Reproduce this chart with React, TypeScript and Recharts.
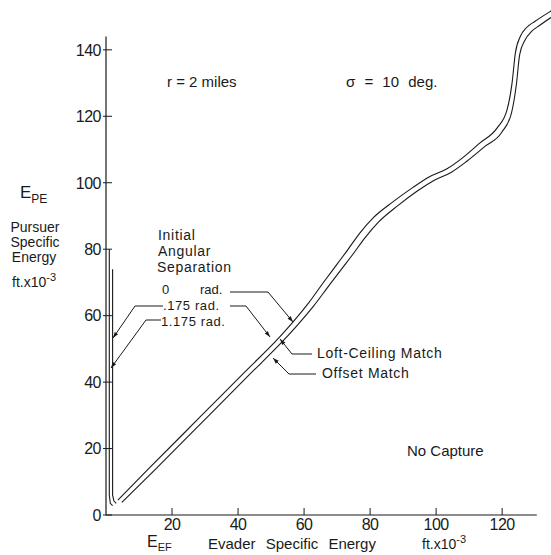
import React from "react";
import { LineChart, Line, XAxis, YAxis, ReferenceLine } from "recharts";

// Evader specific energy (x, ft x 10^-3) vs pursuer specific energy (y, ft x 10^-3)
const loftCeilingX = [3.6, 13.3, 28.5, 42, 52.7, 57, 61.5, 65.8, 70, 73, 77, 81, 87, 93, 98, 103.3, 108, 113.3, 118.5, 121.5, 123, 124, 125.5, 127.5, 130, 134.5, 137];
const loftCeilingY = [4.5, 14.3, 29.5, 43, 53.7, 58.5, 64, 69.9, 75.5, 79.5, 85, 89.5, 94.3, 98.6, 101.8, 104.2, 107.5, 112, 116.5, 122, 130, 139, 144, 146.8, 148.6, 151.5, 153];

const offsetX = [4.8, 14.5, 29.7, 43.2, 53.9, 58.2, 62.8, 67.2, 71.4, 74.5, 78.5, 82.6, 88.4, 94.3, 99.3, 104.5, 109.2, 114.6, 119.9, 122.8, 124.3, 125.3, 126.9, 129, 131.4, 135.8, 138];
const offsetY = [3.8, 13.3, 28.5, 42, 52.7, 57.4, 62.8, 68.6, 74.1, 78.1, 83.5, 88.2, 93.1, 97.5, 100.7, 103.1, 106.4, 110.8, 115.2, 120.9, 129.5, 138.5, 142.9, 145.6, 147.4, 150.4, 151.8];

// near-vertical curves for .175 rad and 1.175 rad initial angular separation
const sep175X = [1.0, 1.0, 1.0, 1.3, 2.0];
const sep175Y = [80, 40, 6, 3.5, 2.8];
const sep1175X = [2.0, 2.0, 2.0, 2.4, 3.1];
const sep1175Y = [74, 40, 6, 4.2, 3.5];

const xTicks = [20, 40, 60, 80, 100, 120];
const yTicks = [0, 20, 40, 60, 80, 100, 120, 140];

const zip = (xs: number[], ys: number[]) => xs.map((x, i) => ({ x, y: ys[i] }));
const loftData = zip(loftCeilingX, loftCeilingY);
const offsetData = zip(offsetX, offsetY);
const sep175Data = zip(sep175X, sep175Y);
const sep1175Data = zip(sep1175X, sep1175Y);

const INK = "#1a1a1a";
const FONT = "'Liberation Sans', Arial, sans-serif";

const YTick = (props: any) => {
  const { y, payload } = props;
  return (
    <g>
      <line x1={103} x2={112} y1={y} y2={y} stroke={INK} strokeWidth={1} />
      <text x={101} y={y} dy="0.36em" textAnchor="end" fontSize={16} fontFamily={FONT} fill={INK} letterSpacing={-0.5}>
        {payload.value}
      </text>
    </g>
  );
};

const XTick = (props: any) => {
  const { x, payload } = props;
  return (
    <g>
      <line x1={x} x2={x} y1={508} y2={515} stroke={INK} strokeWidth={1} />
      <text x={x} y={530} textAnchor="middle" fontSize={16} fontFamily={FONT} fill={INK} letterSpacing={-0.5}>
        {payload.value}
      </text>
    </g>
  );
};

const arrow = (tx: number, ty: number, fx: number, fy: number) => {
  const dx = tx - fx, dy = ty - fy;
  const L = Math.hypot(dx, dy);
  const ux = dx / L, uy = dy / L;
  const len = 6, w = 2;
  const bx = tx - ux * len, by = ty - uy * len;
  return `${tx},${ty} ${bx - uy * w},${by + ux * w} ${bx + uy * w},${by - ux * w}`;
};

const leaders: number[][] = [
  [163, 306, 135, 306, 113, 338],
  [161, 320, 146, 320, 111, 368],
  [230, 292, 268, 292, 293, 322],
  [230, 306, 246, 306, 270, 337],
  [312, 354, 292, 354, 280, 339],
  [316, 374, 289, 374, 273, 358],
];

const Overlay = () => (
  <svg width={551} height={555} style={{ position: "absolute", left: 0, top: 0, pointerEvents: "none" }} fontFamily={FONT} fill={INK}>
    {leaders.map((p, i) => (
      <g key={i}>
        <polyline points={`${p[0]},${p[1]} ${p[2]},${p[3]} ${p[4]},${p[5]}`} fill="none" stroke={INK} strokeWidth={1} />
        <polygon points={arrow(p[4], p[5], p[2], p[3])} fill={INK} />
      </g>
    ))}
    <text x={167} y={87} fontSize={15}>r = 2 miles</text>
    <text x={346} y={87} fontSize={15} wordSpacing={5}>σ = 10 deg.</text>

    <text x={20} y={198} fontSize={17}>E<tspan fontSize={12} dy={5}>PE</tspan></text>
    <text x={35} y={232} fontSize={14} textAnchor="middle">Pursuer</text>
    <text x={35} y={247} fontSize={14} textAnchor="middle">Specific</text>
    <text x={34} y={262} fontSize={14} textAnchor="middle">Energy</text>
    <text x={12} y={287} fontSize={14}>ft.x10<tspan fontSize={11} dy={-6}>-3</tspan></text>

    <text x={158} y={240} fontSize={14} letterSpacing={0.7}>Initial</text>
    <text x={158} y={256} fontSize={14} letterSpacing={0.7}>Angular</text>
    <text x={157} y={272} fontSize={14} letterSpacing={0.7}>Separation</text>
    <text x={162} y={294} fontSize={13}>0</text>
    <text x={200} y={294} fontSize={13}>rad.</text>
    <text x={163} y={310} fontSize={13} letterSpacing={0.6}>.175  rad.</text>
    <text x={161} y={326} fontSize={13} letterSpacing={0.6}>1.175  rad.</text>

    <text x={317} y={358} fontSize={14} letterSpacing={0.7}>Loft-Ceiling Match</text>
    <text x={322} y={378} fontSize={14} letterSpacing={0.7}>Offset  Match</text>
    <text x={407} y={456} fontSize={15}>No  Capture</text>

    <text x={147} y={547} fontSize={16}>E<tspan fontSize={11} dy={4}>EF</tspan></text>
    <text x={208} y={549} fontSize={15} wordSpacing={6}>Evader Specific Energy</text>
    <text x={422} y={549} fontSize={14}>ft.x10<tspan fontSize={11} dy={-6}>-3</tspan></text>
  </svg>
);

export default function App() {
  return (
    <div style={{ position: "absolute", left: 0, top: 0, width: 551, height: 555, background: "#fff" }}>
      <LineChart width={551} height={555} margin={{ top: 0, right: 0, bottom: 0, left: 0 }}>
        <XAxis
          type="number"
          dataKey="x"
          domain={[0, 134.8]}
          allowDataOverflow
          ticks={xTicks}
          tick={<XTick />}
          tickLine={false}
          axisLine={false}
          height={40}
        />
        <YAxis
          type="number"
          dataKey="y"
          domain={[0, 155]}
          allowDataOverflow
          ticks={yTicks}
          tick={<YTick />}
          tickLine={false}
          axisLine={false}
          width={106}
        />
        <ReferenceLine segment={[{ x: 0, y: 0 }, { x: 0, y: 144 }]} stroke={INK} strokeWidth={1.2} ifOverflow="visible" />
        <ReferenceLine segment={[{ x: 0, y: 0 }, { x: 130.5, y: 0 }]} stroke={INK} strokeWidth={1.2} ifOverflow="visible" />
        <Line data={loftData} dataKey="y" type="monotone" stroke={INK} strokeWidth={1.1} dot={false} isAnimationActive={false} />
        <Line data={offsetData} dataKey="y" type="monotone" stroke={INK} strokeWidth={1.1} dot={false} isAnimationActive={false} />
        <Line data={sep175Data} dataKey="y" type="linear" stroke={INK} strokeWidth={1.1} dot={false} isAnimationActive={false} />
        <Line data={sep1175Data} dataKey="y" type="linear" stroke={INK} strokeWidth={1.1} dot={false} isAnimationActive={false} />
      </LineChart>
      <Overlay />
    </div>
  );
}
